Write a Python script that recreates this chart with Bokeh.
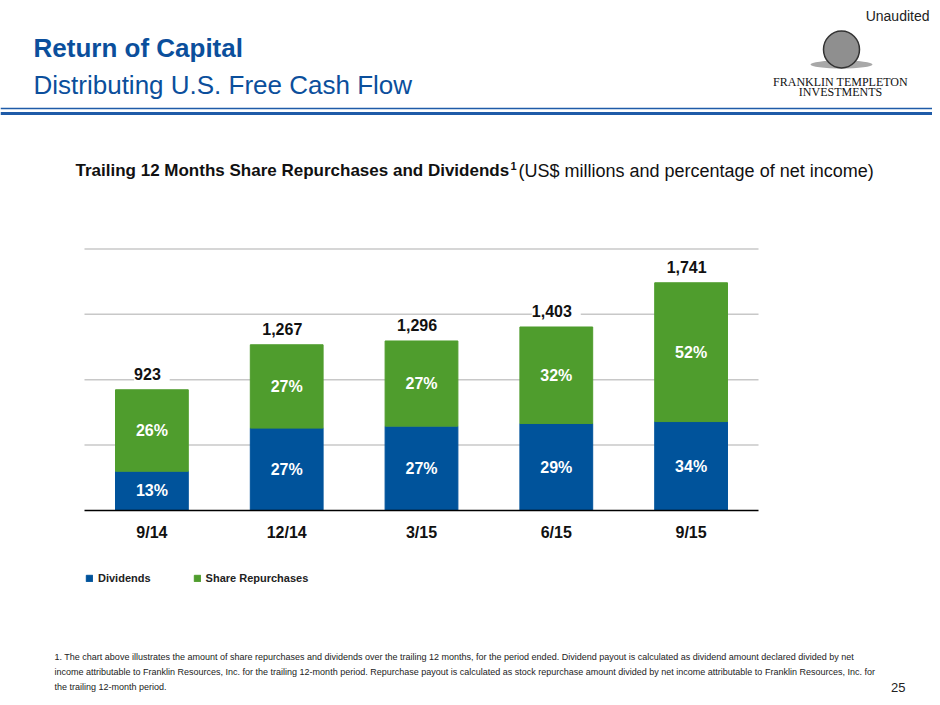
from bokeh.plotting import figure
from bokeh.models import ColumnDataSource, Range1d, FixedTicker, LabelSet, Legend
from bokeh.embed import file_html
from bokeh.resources import INLINE
from bokeh.core.properties import value

# -- data
periods = ["9/14", "12/14", "3/15", "6/15", "9/15"]
dividends = [300, 630, 645, 665, 680]
repurchases = [623, 637, 651, 738, 1061]
totals = [923, 1267, 1296, 1403, 1741]
dividend_pct = ["13%", "27%", "27%", "29%", "34%"]
repurchase_pct = ["26%", "27%", "27%", "32%", "52%"]
grid_ticks = [500, 1000, 1500, 2000]
series_names = ["Dividends", "Share Repurchases"]

title = "Return of Capital"
subtitle = "Distributing U.S. Free Cash Flow"
heading_bold = "Trailing 12 Months Share Repurchases and Dividends"
heading_note = "1"
heading_rest = "(US$ millions and percentage of net income)"
footnote = [
    "1.  The chart above illustrates the amount of share repurchases and dividends over the trailing 12 months, for the period ended. Dividend payout is calculated as dividend amount declared divided by net",
    "income attributable to Franklin Resources, Inc. for the trailing 12-month period.  Repurchase payout is calculated as stock repurchase amount divided by net income attributable to Franklin Resources, Inc. for",
    "the trailing 12-month period.",
]
page_number = "25"

# -- styles
BLUE = "#00539b"
GREEN = "#4f9d2d"
TITLE_BLUE = "#0b4f9c"
RULE_BLUE = "#1f5ba8"
GRID = "#c8c8c8"
SANS = "Liberation Sans"
SERIF = "Liberation Serif"

# -- page geometry (picture pixels); the chart area sits inside one full-page frame
PAGE_L, PAGE_R, PAGE_T, PAGE_B = 0, 932, 0, 697
CHART_L, CHART_R, BASE_Y, TOP_Y = 84, 758, 510, 248.4
Y_MAX = 2000

n = len(periods)
cat_w = (CHART_R - CHART_L) / n
px_per_unit = (BASE_Y - TOP_Y) / Y_MAX
x_range = Range1d(-0.5 - (CHART_L - PAGE_L) / cat_w, n - 0.5 + (PAGE_R - CHART_R) / cat_w)
y_range = Range1d(-(PAGE_B - BASE_Y) / px_per_unit, Y_MAX + (TOP_Y - PAGE_T) / px_per_unit)

p = figure(width=PAGE_R - PAGE_L, height=PAGE_B - PAGE_T, x_range=x_range, y_range=y_range,
           min_border=0, min_border_left=0, min_border_right=0, min_border_top=0,
           min_border_bottom=0, toolbar_location=None, output_backend="svg",
           y_axis_location=None, outline_line_color=None)
p.extra_x_ranges = {"page": Range1d(PAGE_L, PAGE_R)}
p.extra_y_ranges = {"page": Range1d(PAGE_B, PAGE_T)}
p.grid.visible = False
pg = dict(x_range_name="page", y_range_name="page", text_baseline="middle")

# -- header
p.text(x=[929], y=[15], text=["Unaudited"], text_font=value(SANS), text_font_size="14px",
       text_color="#222", text_align="right", **pg)
p.text(x=[33], y=[47.5], text=[title], text_font=value(SANS), text_font_style="bold",
       text_font_size="26px", text_color=TITLE_BLUE, **pg)
p.text(x=[33], y=[84], text=[subtitle], text_font=value(SANS), text_font_size="26px",
       text_color=TITLE_BLUE, **pg)
p.line(x=[PAGE_L, PAGE_R], y=[108, 108], line_color=RULE_BLUE, line_width=1.5,
       x_range_name="page", y_range_name="page")
p.line(x=[PAGE_L, PAGE_R], y=[113, 113], line_color=RULE_BLUE, line_width=3,
       x_range_name="page", y_range_name="page")

# logo (portrait and laurel approximated by grey shapes)
p.ellipse(x=[841], y=[64], width=62, height=8, fill_color="#a8a8a8", line_color=None,
          x_range_name="page", y_range_name="page")
p.ellipse(x=[841], y=[49], width=36, height=37, fill_color="#8f8f8f", line_color="#333",
          line_width=1.5, x_range_name="page", y_range_name="page")
p.text(x=[840, 840], y=[81, 91], text=["FRANKLIN TEMPLETON", "INVESTMENTS"],
       text_font=value(SERIF), text_font_size="12px", text_color="#111",
       text_align="center", **pg)

p.text(x=[75], y=[170], text=[heading_bold], text_font=value(SANS), text_font_style="bold",
       text_font_size="17px", text_color="#111", **pg)
p.text(x=[510], y=[165], text=[heading_note], text_font=value(SANS), text_font_style="bold",
       text_font_size="11px", text_color="#111", **pg)
p.text(x=[518], y=[170], text=[heading_rest], text_font=value(SANS),
       text_font_size="18px", text_color="#111", **pg)

# -- chart
src = ColumnDataSource(dict(
    pos=list(range(n)), dividends=dividends, repurchases=repurchases,
    total=totals, total_label=[f" {t:,} " for t in totals],
    div_mid=[d / 2 for d in dividends],
    rep_mid=[d + r / 2 for d, r in zip(dividends, repurchases)],
    div_pct=dividend_pct, rep_pct=repurchase_pct,
))

p.segment(x0=-0.5, x1=n - 0.5, y0=grid_ticks, y1=grid_ticks, line_color=GRID, line_width=1.5)
bars = p.vbar_stack(["dividends", "repurchases"], x="pos", width=0.54,
                    color=[BLUE, GREEN], source=src)

xa = p.xaxis[0]
xa.fixed_location = 0
xa.bounds = (-0.5, n - 0.5)
xa.ticker = FixedTicker(ticks=list(range(n)))
xa.major_label_overrides = {i: lab for i, lab in enumerate(periods)}
xa.axis_line_color = "black"
xa.axis_line_width = 1.5
xa.major_tick_line_color = None
xa.minor_tick_line_color = None
xa.major_label_text_font = SANS
xa.major_label_text_font_style = "bold"
xa.major_label_text_font_size = "16px"
xa.major_label_text_color = "#111"
xa.major_label_standoff = 7

common = dict(source=src, x="pos", text_align="center", text_baseline="middle",
              text_font=value(SANS), text_font_style="bold", text_font_size="16px")
p.add_layout(LabelSet(y="total", text="total_label", y_offset=15, text_color="#111",
                      background_fill_color="white", **common))
p.add_layout(LabelSet(y="div_mid", text="div_pct", text_color="white", **common))
p.add_layout(LabelSet(y="rep_mid", text="rep_pct", text_color="white", **common))

legend = Legend(items=[(name, [r]) for name, r in zip(series_names, bars)],
                location=(CHART_L - PAGE_L + 1, PAGE_B - 584), orientation="horizontal",
                glyph_width=8, glyph_height=8,
                label_standoff=5, spacing=42, padding=0, margin=0, label_height=13,
                border_line_color=None, background_fill_alpha=0,
                label_text_font=SANS, label_text_font_style="bold",
                label_text_font_size="11px", label_text_color="#222")
p.add_layout(legend)

# -- footer
p.text(x=[54] * len(footnote), y=[656, 671, 686], text=footnote, text_font=value(SANS),
       text_font_size="9px", text_color="#222", **pg)
p.text(x=[905], y=[687], text=[page_number], text_font=value(SANS), text_font_size="13px",
       text_color="#222", text_align="right", **pg)

open("out.html", "w").write(file_html(p, INLINE))
